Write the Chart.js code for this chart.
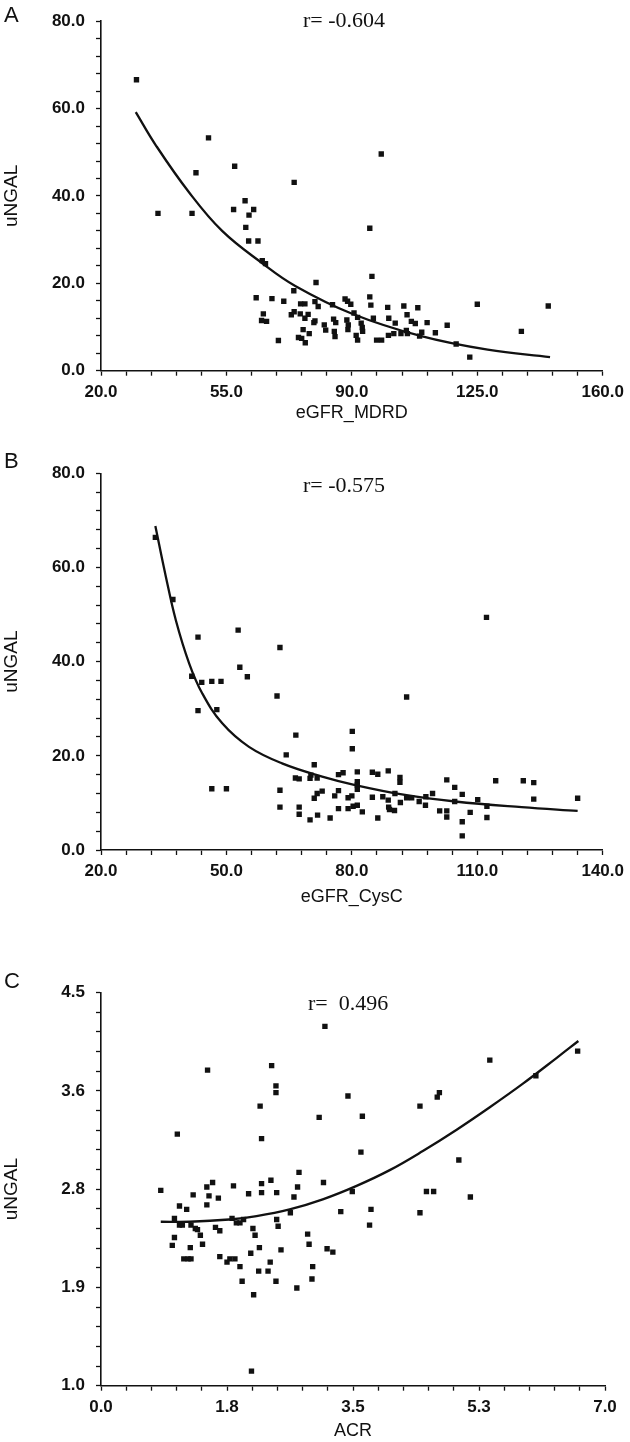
<!DOCTYPE html>
<html>
<head>
<meta charset="utf-8">
<script src="https://cdn.jsdelivr.net/npm/chart.js@4.4.0/dist/chart.umd.min.js"></script>
<style>
  html, body { margin: 0; padding: 0; background: #fff; }
  #wrap { position: relative; width: 630px; height: 1442px; }
  #wrap canvas { position: absolute; left: 0; }
</style>
</head>
<body>
<div id="wrap">
  <canvas id="chartA" width="630" height="430" style="top:0px"></canvas>
  <canvas id="chartB" width="630" height="480" style="top:440px"></canvas>
  <canvas id="chartC" width="630" height="482" style="top:960px"></canvas>
</div>
<script>
// ===== DATA =====

// Panel A: uNGAL vs eGFR_MDRD
const aX = [29.9, 35.9, 45.4, 46.5, 50.0, 57.3, 57.0, 60.2, 62.6, 61.3, 60.4, 61.2, 63.8, 65.0, 65.9, 73.9,
            98.2, 95.0, 95.6, 80.0, 63.3, 67.7, 71.0, 73.8, 65.3, 64.8, 66.2, 69.5, 73.1, 73.9, 75.7, 76.9,
            75.6, 77.8, 76.9, 76.4, 75.1, 76.0, 77.0, 78.1, 79.7, 80.6, 79.7, 79.4, 82.3, 82.7, 84.6, 84.9,
            85.5, 85.1, 85.3, 88.1, 88.8, 89.7, 90.6, 88.6, 89.0, 88.9, 91.6, 92.6, 92.9, 93.0, 91.2, 91.6,
            95.0, 95.3, 96.0, 96.9, 98.3, 100.0, 100.3, 102.1, 100.2, 101.7, 104.5, 105.4, 106.6, 107.7,
            105.2, 105.5, 108.4, 111.0, 109.5, 108.9, 113.3, 116.6, 119.1, 122.9, 125.0, 137.3, 144.8, 103.7];
const aY = [66.6, 36.0, 36.0, 45.3, 53.3, 46.8, 36.9, 38.9, 36.9, 35.6, 32.8, 29.7, 29.7, 25.2, 24.5, 43.1,
            49.6, 32.6, 21.6, 20.2, 16.7, 16.5, 15.9, 18.3, 13.0, 11.5, 11.3, 6.9, 12.8, 13.5, 15.3, 15.3,
            13.0, 12.9, 12.0, 9.4, 7.6, 7.4, 6.4, 8.5, 15.8, 14.7, 11.4, 11.0, 10.5, 9.3, 15.1, 11.8,
            11.0, 9.0, 7.8, 16.4, 15.9, 15.2, 13.2, 11.6, 10.5, 9.4, 12.2, 10.9, 9.9, 9.0, 8.1, 7.0,
            16.9, 15.0, 12.0, 7.0, 7.0, 14.5, 12.0, 10.9, 8.1, 8.5, 14.8, 12.8, 11.3, 10.8,
            9.2, 8.5, 14.4, 11.0, 8.8, 7.9, 8.7, 10.4, 6.1, 3.1, 15.2, 9.0, 14.8, 8.5];
const aFitX = [29.7, 35.3, 44.5, 53.8, 65.0, 74.2, 89.9, 109.4, 127.9, 145.3];
const aFitY = [59.2, 51.6, 40.9, 32.0, 24.6, 19.4, 13.1, 7.9, 4.8, 3.1];
const aXTicks = [20, 55, 90, 125, 160];
const aXLabels = ['20.0', '55.0', '90.0', '125.0', '160.0'];
const aYTicks = [0, 20, 40, 60, 80];
const aYLabels = ['0.0', '20.0', '40.0', '60.0', '80.0'];

// Panel B: uNGAL vs eGFR_CysC
const bX = [33.0, 37.2, 43.2, 41.7, 44.1, 46.5, 48.7, 43.2, 47.7, 52.8, 53.2, 55.0, 46.5, 50.0, 62.8, 62.1,
            112.2, 93.1, 80.1, 80.1, 66.6, 64.3, 62.8, 62.8, 66.5, 67.4, 67.4, 67.4, 70.0, 70.0, 70.2, 71.0,
            71.7, 71.0, 71.7, 72.9, 71.8, 74.8, 75.9, 76.8, 76.8, 77.9, 76.8, 79.1, 80.0, 79.1, 80.3, 81.3,
            82.5, 81.3, 81.3, 81.3, 81.3, 84.9, 86.2, 84.9, 86.2, 87.4, 88.7, 88.7, 88.8, 89.0, 90.2, 90.3,
            91.5, 91.5, 91.6, 93.1, 94.3, 96.1, 97.6, 99.3, 97.7, 101.0, 102.7, 102.7, 102.7, 104.6, 104.6,
            106.4, 106.4, 106.4, 108.3, 110.1, 112.3, 112.3, 114.4, 121.0, 123.5, 123.5, 134.0];
const bY = [66.4, 53.2, 45.2, 36.9, 35.6, 35.8, 35.8, 29.6, 29.8, 46.7, 38.8, 36.8, 13.0, 13.0, 43.0, 32.7,
            49.4, 32.5, 25.2, 21.5, 24.4, 20.2, 12.7, 9.1, 15.3, 15.1, 9.1, 7.6, 6.4, 15.2, 15.9, 18.1,
            15.3, 11.0, 12.0, 12.5, 7.4, 6.8, 11.5, 12.6, 16.0, 16.4, 8.8, 11.1, 11.5, 8.8, 9.3, 9.5,
            8.1, 16.6, 14.5, 13.8, 12.9, 16.5, 16.1, 11.2, 6.8, 11.3, 16.8, 10.6, 9.1, 8.6, 8.4, 12.0,
            15.4, 14.4, 10.1, 11.1, 11.1, 10.3, 9.5, 12.0, 11.3, 8.3, 14.9, 8.3, 7.0, 13.3, 10.3,
            11.8, 6.0, 3.0, 8.0, 10.7, 9.3, 6.9, 14.7, 14.7, 14.3, 10.8, 11.0];
const bFitX = [33.0, 35.5, 37.9, 41.1, 44.2, 49.0, 55.4, 63.3, 72.9, 80.8, 92.7, 104.7, 120.6, 134.0];
const bFitY = [68.8, 58.1, 48.8, 39.6, 33.3, 26.9, 21.9, 18.4, 15.6, 13.8, 11.7, 10.3, 9.1, 8.3];
const bXTicks = [20, 50, 80, 110, 140];
const bXLabels = ['20.0', '50.0', '80.0', '110.0', '140.0'];
const bYTicks = [0, 20, 40, 60, 80];
const bYLabels = ['0.0', '20.0', '40.0', '60.0', '80.0'];

// Panel C: uNGAL vs ACR
const cX = [0.83, 0.99, 1.02, 1.02, 1.06, 1.09, 1.09, 1.13, 1.19, 1.15, 1.21, 1.25, 1.24, 1.25, 1.28, 1.31,
            1.34, 1.38, 1.41, 1.47, 1.48, 1.50, 1.47, 1.55, 1.63, 1.59, 1.65, 1.65, 1.75, 1.79, 1.86, 1.84,
            1.82, 1.88, 1.93, 1.98, 1.93, 1.96, 2.05, 2.09, 2.08, 2.11, 2.14, 2.12, 2.19, 2.20, 2.21, 2.23,
            2.23, 2.23, 2.32, 2.35, 2.36, 2.37, 2.43, 2.43, 2.44, 2.44, 2.46, 2.50, 2.43, 2.63, 2.68, 2.72,
            2.73, 2.75, 2.87, 2.89, 2.94, 2.93, 3.03, 3.09, 3.11, 3.14, 3.22, 3.33, 3.43, 3.49, 3.61, 3.63,
            3.73, 3.75, 4.43, 4.43, 4.52, 4.62, 4.67, 4.70, 4.97, 5.13, 5.40, 6.04, 6.62];
const cY = [2.74, 2.25, 2.32, 2.49, 3.24, 2.60, 2.43, 2.43, 2.57, 2.13, 2.13, 2.13, 2.23, 2.43, 2.70, 2.40,
            2.39, 2.34, 2.26, 2.77, 3.81, 2.69, 2.61, 2.81, 2.67, 2.41, 2.38, 2.15, 2.10, 2.13, 2.13, 2.78,
            2.49, 2.45, 2.45, 2.48, 2.06, 1.93, 2.71, 1.13, 2.18, 2.40, 2.34, 1.81, 2.02, 2.23, 3.49, 3.20,
            2.80, 2.72, 2.02, 2.10, 2.83, 3.85, 3.67, 3.61, 2.72, 2.48, 2.42, 2.21, 1.93, 2.54, 2.68, 1.87,
            2.77, 2.90, 2.35, 2.26, 2.06, 1.95, 3.39, 2.81, 4.20, 2.22, 2.19, 2.55, 3.58, 2.73, 3.08, 3.40,
            2.43, 2.57, 3.49, 2.54, 2.73, 2.73, 3.57, 3.61, 3.01, 2.68, 3.90, 3.76, 3.98];
const cFitX = [0.83, 1.23, 1.78, 2.16, 2.62, 3.08, 3.55, 4.01, 4.47, 4.94, 5.40, 5.86, 6.33, 6.63];
const cFitY = [2.46, 2.46, 2.48, 2.51, 2.57, 2.66, 2.78, 2.92, 3.09, 3.28, 3.48, 3.69, 3.92, 4.07];
const cXTicks = [0, 1.75, 3.5, 5.25, 7];
const cXLabels = ['0.0', '1.8', '3.5', '5.3', '7.0'];
const cYTicks = [1.0, 1.875, 2.75, 3.625, 4.5];
const cYLabels = ['1.0', '1.9', '2.8', '3.6', '4.5'];

// ===== STYLE =====
const INK = '#111';
const SANS = '"Liberation Sans", Arial, sans-serif';
const SERIF = '"Liberation Serif", "Times New Roman", serif';
const MINOR_PARTS = 5;

// major ticks + 4 unlabeled minor ticks between each pair
function build_ticks(major) {
    const out = [];
    for (let i = 0; i < major.length - 1; i++) {
        const step = (major[i + 1] - major[i]) / MINOR_PARTS;
        for (let k = 0; k < MINOR_PARTS; k++) out.push({ value: major[i] + k * step });
    }
    out.push({ value: major[major.length - 1] });
    return out;
}

function axis_opts(major, labels, title, isX, boxSize) {
    return {
        type: 'linear',
        min: major[0],
        max: major[major.length - 1],
        afterBuildTicks: (s) => { s.ticks = build_ticks(major); },
        afterFit: (s) => { if (isX) s.height = boxSize; else s.width = boxSize; },
        ticks: {
            autoSkip: false,
            maxRotation: 0,
            color: INK,
            padding: isX ? 6 : 11,
            font: { family: SANS, size: 17, weight: 'bold' },
            callback: (v, i) => (i % MINOR_PARTS === 0 ? labels[i / MINOR_PARTS] : '')
        },
        grid: {
            drawOnChartArea: false,
            drawTicks: true,
            tickLength: 5,
            color: INK,
            tickColor: INK,
            tickWidth: 1.3
        },
        border: { display: true, color: INK, width: 1.6 },
        title: {
            display: true,
            text: title,
            color: INK,
            font: { family: SANS, size: isX ? 18 : 19 },
            padding: { top: 0, bottom: 0 }
        }
    };
}

// panel letter and r value
const panelText = {
    id: 'panelText',
    afterDraw(chart, args, o) {
        const c = chart.ctx;
        c.save();
        c.fillStyle = INK;
        c.textAlign = 'left';
        c.textBaseline = 'alphabetic';
        c.font = '22px ' + SANS;
        c.fillText(o.letter, 4, o.letterY);
        c.font = '22px ' + SERIF;
        c.fillText(o.r, o.rX, o.rY);
        c.restore();
    }
};

function make_panel(id, p) {
    const pts = p.xs.map((x, i) => ({ x: x, y: p.ys[i] }));
    const fit = p.fitX.map((x, i) => ({ x: x, y: p.fitY[i] }));
    return new Chart(document.getElementById(id), {
        type: 'scatter',
        data: {
            datasets: [{
                data: pts,
                pointStyle: 'rect',
                pointRadius: 3.8,
                backgroundColor: INK,
                borderWidth: 0
            }, {
                data: fit,
                showLine: true,
                pointRadius: 0,
                borderColor: INK,
                borderWidth: 2.3,
                tension: 0.4,
                fill: false
            }]
        },
        options: {
            responsive: false,
            animation: false,
            events: [],
            layout: { padding: p.pad },
            plugins: {
                legend: { display: false },
                tooltip: { enabled: false },
                panelText: p.text
            },
            scales: {
                x: axis_opts(p.xTicks, p.xLabels, p.xTitle, true, p.xBox),
                y: axis_opts(p.yTicks, p.yLabels, 'uNGAL', false, 101)
            }
        },
        plugins: [panelText]
    });
}

make_panel('chartA', {
    xs: aX, ys: aY, fitX: aFitX, fitY: aFitY,
    xTicks: aXTicks, xLabels: aXLabels, yTicks: aYTicks, yLabels: aYLabels,
    xTitle: 'eGFR_MDRD', xBox: 53.6,
    pad: { top: 11, right: 25, bottom: 5.7, left: 0 },
    text: { letter: 'A', letterY: 22, r: 'r= -0.604', rX: 303, rY: 27 }
});

make_panel('chartB', {
    xs: bX, ys: bY, fitX: bFitX, fitY: bFitY,
    xTicks: bXTicks, xLabels: bXLabels, yTicks: bYTicks, yLabels: bYLabels,
    xTitle: 'eGFR_CysC', xBox: 58.3,
    pad: { top: 33.3, right: 25, bottom: 11.7, left: 0 },
    text: { letter: 'B', letterY: 28, r: 'r= -0.575', rX: 303, rY: 51.5 }
});

make_panel('chartC', {
    xs: cX, ys: cY, fitX: cFitX, fitY: cFitY,
    xTicks: cXTicks, xLabels: cXLabels, yTicks: cYTicks, yLabels: cYLabels,
    xTitle: 'ACR', xBox: 56.3,
    pad: { top: 32.7, right: 25, bottom: 0, left: 0 },
    text: { letter: 'C', letterY: 28, r: 'r=  0.496', rX: 308, rY: 50 }
});
</script>
</body>
</html>
